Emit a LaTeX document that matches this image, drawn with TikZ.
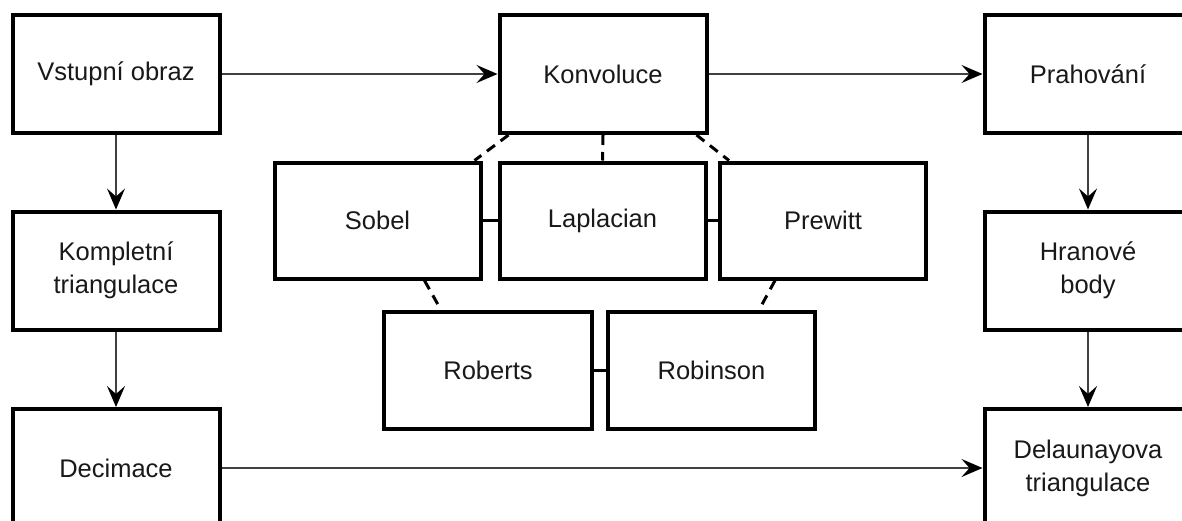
\documentclass[tikz,border=0pt]{standalone}
\usepackage{fontspec}
\setmainfont{Liberation Sans}
\usetikzlibrary{arrows.meta}
\begin{document}
\begin{tikzpicture}[x=1pt,y=-1pt,
  box/.style={draw=black,line width=4pt,fill=white,rectangle,inner sep=0pt,
    align=center,minimum width=207pt,minimum height=118pt,
    font=\fontsize{25.5pt}{33pt}\selectfont,text=black!90},
  filter/.style={box,minimum width=206pt,minimum height=116pt},
  flow/.style={draw=black!75,line width=1.6pt,
    -{Stealth[length=21pt,width=18pt,inset=8pt,color=black]}},
  link/.style={draw=black,line width=3pt},
  dashlink/.style={draw=black,line width=3pt,dash pattern=on 10pt off 7pt}]
\useasboundingbox (0,0) rectangle (1182,520);
\fill[white] (0,0) rectangle (1182,520);

% processing pipeline
\node[box] (vst)  at (116,74)   {Vstupní obraz};
\node[box] (konv) at (603,74)   {Konvoluce};
\node[box] (prah) at (1088,74)  {Prahování};
\node[box] (komp) at (116,270.5)  {Kompletní\\triangulace};
\node[box] (hran) at (1088,270.5) {Hranové\\body};
\node[box] (dec)  at (116,468)  {Decimace};
\node[box] (del)  at (1088,468) {Delaunayova\\triangulace};

% convolution kernels
\node[filter] (sobel) at (377.5,220.5) {Sobel};
\node[filter] (lapl)  at (602.5,220.5) {Laplacian};
\node[filter] (prew)  at (823,220.5)   {Prewitt};
\node[filter,minimum width=208pt,minimum height=117pt] (robe)  at (488,370.5)   {Roberts};
\node[filter,minimum width=207pt,minimum height=117pt] (robi)  at (711.5,370.5) {Robinson};

% arrows of the pipeline
\draw[flow] (vst.east) -- (konv.west);
\draw[flow] (konv.east) -- (prah.west);
\draw[flow] (vst.south) -- (komp.north);
\draw[flow] (komp.south) -- (dec.north);
\draw[flow] (prah.south) -- (hran.north);
\draw[flow] (hran.south) -- (del.north);
\draw[flow] (dec.east) -- (del.west);

% kernels attached to the convolution
\draw[dashlink] ([xshift=11pt]konv.south west) -- ([xshift=-8pt]sobel.north east);
\draw[dashlink] (konv.south) -- (lapl.north);
\draw[dashlink] ([xshift=-12pt]konv.south east) -- ([xshift=11pt]prew.north west);
\draw[dashlink] ([xshift=-58pt]sobel.south east) -- ([xshift=59pt]robe.north west);
\draw[dashlink] ([xshift=57pt]prew.south west) -- ([xshift=-58pt]robi.north east);

% links between neighbouring kernels
\draw[link] (sobel.east) -- (lapl.west);
\draw[link] (lapl.east) -- (prew.west);
\draw[link] (robe.east) -- (robi.west);
\end{tikzpicture}
\end{document}
